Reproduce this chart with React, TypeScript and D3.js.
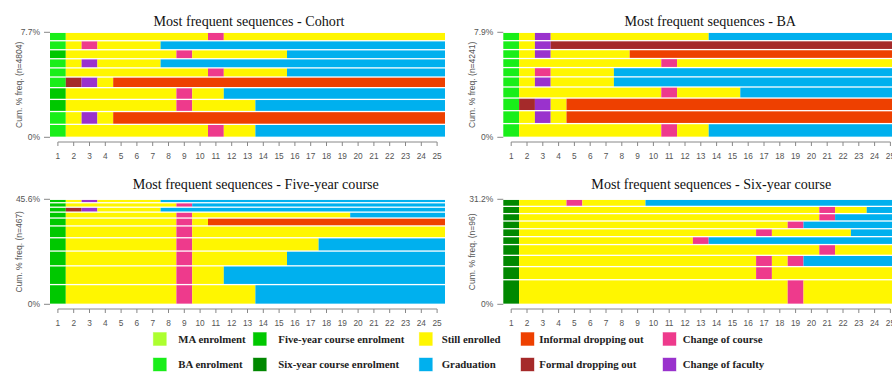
import React from 'react';
import * as d3 from 'd3';

// ---- data ----
const stateCodes = ['MA', 'BA', 'FY', 'SY', 'ST', 'GR', 'ID', 'FD', 'CC', 'CF'];
const stateLabels = [
  'MA enrolment', 'BA enrolment', 'Five-year course enrolment', 'Six-year course enrolment',
  'Still enrolled', 'Graduation', 'Informal dropping out', 'Formal dropping out',
  'Change of course', 'Change of faculty',
];
const stateColors = [
  '#ADFF2F', '#19EE19', '#00C800', '#008800', '#FFF600', '#00B0EE',
  '#EE4000', '#A52A2A', '#EE3A8C', '#9A32CD',
];
const positions = d3.range(1, 26);

// sequences listed from the most frequent (bottom) to the least frequent (top)
const cohortSeqs = [
  'BA1 ST9 CC1 ST2 GR12', 'BA1 ST1 CF1 ST1 ID21', 'FY1 ST7 CC1 ST4 GR12', 'FY1 ST7 CC1 ST2 GR14',
  'BA1 FD1 CF1 ST1 ID21', 'BA1 ST9 CC1 ST4 GR10', 'BA1 ST1 CF1 ST4 GR18', 'FY1 ST7 CC1 ST6 GR10',
  'BA1 ST1 CC1 ST4 GR18', 'BA1 ST9 CC1 ST14',
];
const cohortFreq = [0.95, 0.94, 0.89, 0.86, 0.78, 0.67, 0.67, 0.66, 0.66, 0.62];

const baSeqs = [
  'BA1 ST9 CC1 ST2 GR12', 'BA1 ST1 CF1 ST1 ID21', 'BA1 FD1 CF1 ST1 ID21', 'BA1 ST9 CC1 ST4 GR10',
  'BA1 ST1 CF1 ST4 GR18', 'BA1 ST1 CC1 ST4 GR18', 'BA1 ST9 CC1 ST14', 'BA1 ST1 CF1 ST5 ID17',
  'BA1 ST1 CF1 FD22', 'BA1 ST1 CF1 ST10 GR12',
];
const baFreq = [1.03, 0.97, 0.95, 0.83, 0.76, 0.70, 0.68, 0.67, 0.67, 0.63];

const fiveSeqs = [
  'FY1 ST7 CC1 ST4 GR12', 'FY1 ST7 CC1 ST2 GR14', 'FY1 ST7 CC1 ST6 GR10', 'FY1 ST7 CC1 ST8 GR8',
  'FY1 ST7 CC1 ST16', 'FY1 ST7 CC1 ST1 ID15', 'FY1 ST7 CC1 ST10 GR6', 'FY1 FD1 CF1 ST4 GR18',
  'FY1 ST7 CC1 GR16', 'FY1 ST1 CF1 ST4 GR18',
];
const fiveFreq = [8.57, 8.14, 6.42, 5.78, 5.14, 3.43, 2.57, 2.14, 1.93, 1.50];

const sixSeqs = [
  'SY1 ST17 CC1 ST6', 'SY1 ST15 CC1 ST8', 'SY1 ST15 CC1 ST1 CC1 GR6', 'SY1 ST19 CC1 ST4',
  'SY1 ST11 CC1 GR12', 'SY1 ST15 CC1 ST5 GR3', 'SY1 ST17 CC1 GR6', 'SY1 ST19 CC1 GR4',
  'SY1 ST19 CC1 ST2 GR2', 'SY1 ST3 CC1 ST4 GR16',
];
const sixFreq = [7.3, 3.9, 3.35, 3.2, 2.35, 2.35, 2.3, 2.2, 2.15, 2.1];

const panelTitles = [
  'Most frequent sequences - Cohort', 'Most frequent sequences - BA',
  'Most frequent sequences - Five-year course', 'Most frequent sequences - Six-year course',
];
const panelN = [4804, 4241, 467, 96];
const panelTopLabels = ['7.7%', '7.9%', '45.6%', '31.2%'];

// ---- helpers ----
function parseSpells(s: string) {
  let pos = 1;
  return s.split(' ').map((tok) => {
    const code = tok.slice(0, 2);
    const len = +tok.slice(2);
    const sp = { code, start: pos, end: pos + len - 1 };
    pos += len;
    return sp;
  });
}

const colorScale = d3.scaleOrdinal<string, string>().domain(stateCodes).range(stateColors);

const SANS = 'Liberation Sans, Arial, sans-serif';
const SERIF = 'Liberation Serif, Times New Roman, serif';

function Panel(props: {
  x0: number; y0: number; title: string; titleDx: number; titleY: number;
  seqs: string[]; freqs: number[]; n: number; topLabel: string;
}) {
  const { x0, y0, title, titleDx, titleY, seqs, freqs, n, topLabel } = props;
  const W = 395, H = 105;
  const total = d3.sum(freqs);
  const xs = d3.scaleLinear().domain([0.5, 25.5]).range([x0, x0 + W]);
  const ys = d3.scaleLinear().domain([0, total]).range([y0 + H, y0]);
  const cum = d3.cumsum(freqs);
  const gap = 1.3;
  const axisY = y0 + H + 4.7;
  return (
    <g>
      <text x={(x0 + x0 + W) / 2 + titleDx} y={titleY} textAnchor="middle"
        fontFamily={SERIF} fontSize={14.1} fill="#111">{title}</text>
      {seqs.map((s, i) => {
        const lo = i === 0 ? 0 : cum[i - 1];
        const hi = cum[i];
        const yTop = ys(hi) + gap / 2;
        const h = ys(lo) - ys(hi) - gap;
        return (
          <g key={i}>
            {parseSpells(s).map((sp, j) => (
              <rect key={j} x={xs(sp.start - 0.5)} y={yTop}
                width={xs(sp.end + 0.5) - xs(sp.start - 0.5)} height={h}
                fill={colorScale(sp.code)} />
            ))}
          </g>
        );
      })}
      {/* y axis ticks */}
      {[0, total].map((v, i) => (
        <g key={i}>
          <line x1={x0 - 6} x2={x0} y1={ys(v)} y2={ys(v)} stroke="#888" strokeWidth={1} />
          <text x={x0 - 10} y={ys(v)} dy="0.35em" textAnchor="end" fontFamily={SANS}
            fontSize={8.5} fill="#555">{i === 0 ? '0%' : topLabel}</text>
        </g>
      ))}
      <text transform={`translate(${x0 - 31},${y0 + H / 2}) rotate(-90)`} textAnchor="middle"
        dy="0.35em" fontFamily={SANS} fontSize={8.5} fill="#555">
        {`Cum. % freq. (n=${n})`}
      </text>
      {/* x axis */}
      <line x1={xs(1)} x2={xs(25)} y1={axisY} y2={axisY} stroke="#888" strokeWidth={1} />
      {positions.map((p) => (
        <g key={p}>
          <line x1={xs(p)} x2={xs(p)} y1={axisY} y2={axisY + 4} stroke="#888" strokeWidth={1} />
          <text x={xs(p)} y={axisY + 14} dy="0.35em" textAnchor="middle" fontFamily={SANS}
            fontSize={8.3} fill="#555">{p}</text>
        </g>
      ))}
    </g>
  );
}

export default function App() {
  const legendSquareX = [153.3, 253.3, 419.3, 521, 663];
  const legendTextX = [178.3, 278.3, 441.7, 539.3, 682.7];
  const legendRowY = [339, 364.5];
  return (
    <svg width={892} height={372} style={{ position: 'absolute', left: 0, top: 0, background: '#fff' }}>
      <rect x={0} y={0} width={892} height={372} fill="#fff" />
      <Panel x0={50} y0={32.3} title={panelTitles[0]} titleDx={1.5} titleY={25.5}
        seqs={cohortSeqs} freqs={cohortFreq} n={panelN[0]} topLabel={panelTopLabels[0]} />
      <Panel x0={503.3} y0={32.3} title={panelTitles[1]} titleDx={9.5} titleY={25.5}
        seqs={baSeqs} freqs={baFreq} n={panelN[1]} topLabel={panelTopLabels[1]} />
      <Panel x0={50} y0={199.3} title={panelTitles[2]} titleDx={8.3} titleY={189}
        seqs={fiveSeqs} freqs={fiveFreq} n={panelN[2]} topLabel={panelTopLabels[2]} />
      <Panel x0={503.3} y0={199.3} title={panelTitles[3]} titleDx={10.5} titleY={189}
        seqs={sixSeqs} freqs={sixFreq} n={panelN[3]} topLabel={panelTopLabels[3]} />
      {stateCodes.map((c, i) => {
        const col = Math.floor(i / 2);
        const row = i % 2;
        const cy = legendRowY[row];
        return (
          <g key={c}>
            <rect x={legendSquareX[col]} y={cy - 6.5} width={13} height={13}
              fill={colorScale(c)} stroke={colorScale(c)} strokeOpacity={0.5} strokeWidth={0.8} />
            <text x={legendTextX[col]} y={cy} dy="0.35em" fontFamily={SERIF} fontWeight="bold"
              fontSize={10.8} fill="#222">{stateLabels[i]}</text>
          </g>
        );
      })}
    </svg>
  );
}
